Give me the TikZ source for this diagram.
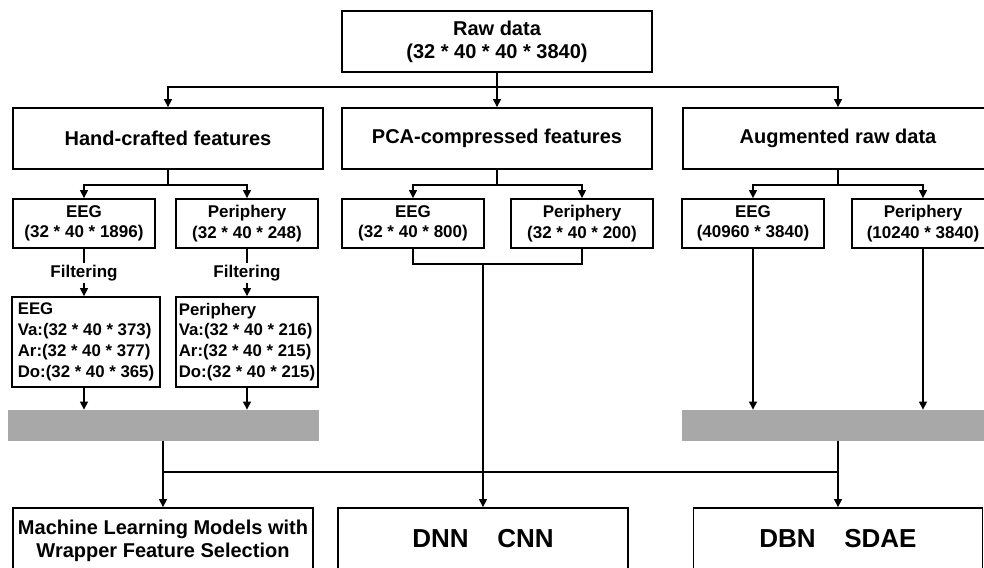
\documentclass[tikz,border=0pt]{standalone}
\usepackage{fontspec}
\setmainfont{Liberation Sans}
\usetikzlibrary{arrows.meta}
\definecolor{barGray}{RGB}{168,168,168}
\begin{document}
\begin{tikzpicture}[x=0.5pt, y=-0.5pt,
  box/.style={draw, line width=0.9pt, inner sep=1pt, align=center,
    font=\bfseries\fontsize{10}{11.5}\selectfont},
  smallbox/.style={box, minimum width=71pt, minimum height=24.5pt,
    font=\bfseries\fontsize{8.5}{10.3}\selectfont},
  listbox/.style={draw, line width=0.9pt, inner xsep=0.8pt, inner ysep=1.5pt,
    minimum width=71pt, minimum height=45pt, align=left,
    font=\bfseries\fontsize{8.4}{10.4}\selectfont},
  grayBar/.style={fill=barGray, minimum width=155.5pt, minimum height=15.5pt, inner sep=0pt},
  link/.style={line width=0.6pt},
  arr/.style={link, -{Triangle[width=4pt, length=4pt]}}]

  \useasboundingbox (0,0) rectangle (984,567);

  % Raw data
  \node[box, minimum width=155pt, minimum height=30.5pt] (raw) at (497,41.5)
    {Raw data\\(32 * 40 * 40 * 3840)};

  % Three kinds of input
  \node[box, minimum width=155pt, minimum height=30.5pt] (hand) at (168,138.5) {Hand-crafted features};
  \node[box, minimum width=155pt, minimum height=30.5pt] (pca) at (497,138.5) {PCA-compressed features};
  \node[box, minimum width=155pt, minimum height=30.5pt] (aug) at (838,138.5) {Augmented raw data};

  \draw[arr] (raw.south) -- (pca.north);
  \coordinate (rawsplit) at (497,87);
  \draw[arr] (rawsplit) -| (hand.north);
  \draw[arr] (rawsplit) -| (aug.north);

  % Signal boxes
  \node[smallbox] (heeg) at (84,223.5) {EEG\\(32 * 40 * 1896)};
  \node[smallbox] (hper) at (247,223.5) {Periphery\\(32 * 40 * 248)};
  \node[smallbox] (peeg) at (413,223.5) {EEG\\(32 * 40 * 800)};
  \node[smallbox] (pper) at (582,223.5) {Periphery\\(32 * 40 * 200)};
  \node[smallbox] (aeeg) at (753,223.5) {EEG\\(40960 * 3840)};
  \node[smallbox] (aper) at (923,223.5) {Periphery\\(10240 * 3840)};

  \foreach \src/\left/\right in {hand/heeg/hper, pca/peeg/pper, aug/aeeg/aper} {
    \draw[link] (\src.south) -- ++(0,15) coordinate (\src split);
    \draw[arr] (\src split) -| (\left.north);
    \draw[arr] (\src split) -| (\right.north);
  }

  % Filtering of hand-crafted features
  \node[font=\bfseries\fontsize{8.5}{9}\selectfont, inner sep=1pt] (filteeg) at (84,273) {Filtering};
  \node[font=\bfseries\fontsize{8.5}{9}\selectfont, inner sep=1pt] (filtper) at (247,273) {Filtering};

  \node[listbox, minimum width=74pt] (hfeeg) at (86,342)
    {EEG\\Va:(32 * 40 * 373)\\Ar:(32 * 40 * 377)\\Do:(32 * 40 * 365)};
  \node[listbox] (hfper) at (247,342)
    {Periphery\\Va:(32 * 40 * 216)\\Ar:(32 * 40 * 215)\\Do:(32 * 40 * 215)};

  \draw[link] (heeg.south) -- (filteeg.north);
  \draw[arr] (filteeg.south) -- (filteeg.south |- hfeeg.north);
  \draw[link] (hper.south) -- (filtper.north);
  \draw[arr] (filtper.south) -- (filtper.south |- hfper.north);

  % Gray bars
  \node[grayBar] (lbar) at (163,425.5) {};
  \node[grayBar, minimum width=156pt] (rbar) at (838,425.5) {};

  \draw[arr] (hfeeg.south -| heeg.south) -- (heeg.south |- lbar.north);
  \draw[arr] (hfper.south) -- (hfper.south |- lbar.north);
  \draw[arr] (aeeg.south) -- (aeeg.south |- rbar.north);
  \draw[arr] (aper.south) -- (aper.south |- rbar.north);

  % Models
  \node[box, minimum width=150pt, minimum height=33pt] (ml) at (163,541)
    {Machine Learning Models with\\Wrapper Feature Selection};
  \node[box, minimum width=145pt, minimum height=31pt, font=\bfseries\fontsize{13}{15}\selectfont] (dnn) at (483,539)
    {DNN\hspace{1.1em}CNN};
  \node[box, minimum width=144.5pt, minimum height=31pt, font=\bfseries\fontsize{13}{15}\selectfont] (dbn) at (838,539)
    {DBN\hspace{1.1em}SDAE};

  % PCA features go straight to the deep models
  \draw[link] (peeg.south) -- ++(0,15) coordinate (pcajoin) -| (pper.south);
  \coordinate (pcadown) at (483,263);
  \draw[arr] (pcadown) -- (dnn.north);

  % Shared feed into all models
  \coordinate (lfeed) at (163,472);
  \coordinate (rfeed) at (838,472);
  \draw[arr] (lbar.south) -- (ml.north);
  \draw[arr] (rbar.south) -- (dbn.north);
  \draw[link] (lfeed) -- (rfeed);

\end{tikzpicture}
\end{document}
